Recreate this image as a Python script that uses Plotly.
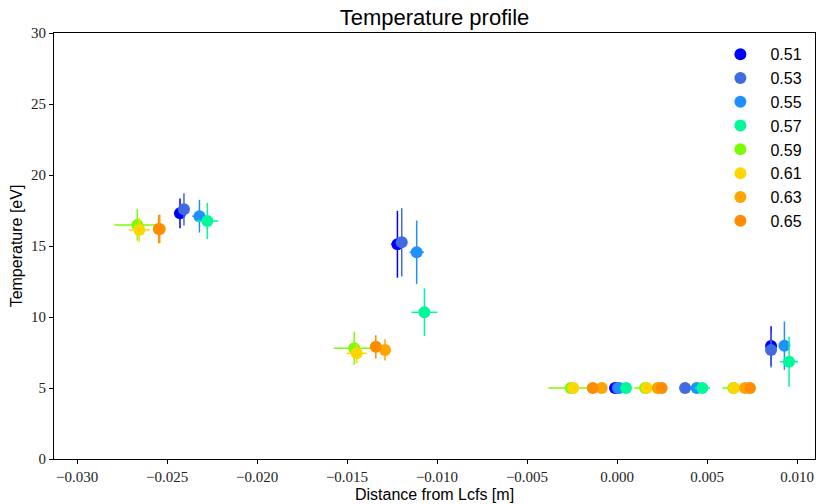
import plotly.graph_objects as go

labels = ["0.51", "0.53", "0.55", "0.57", "0.59", "0.61", "0.63", "0.65"]
colors = ["#0000FF", "#4169E1", "#1E90FF", "#00FA9A", "#7CFC00", "#FFD700", "#FFA500", "#FF8C00"]

x_051 = [-0.02428, -0.0122, -0.00011, 0.00856]
y_051 = [17.3, 15.12, 5.0, 7.96]
xe_051 = [0.00033, 0.00035, 0.0003, 0.0]
ye_051 = [1.05, 2.35, 0.0, 1.39]

x_053 = [-0.02406, -0.01196, 0.00004, 0.00378, 0.00856]
y_053 = [17.58, 15.26, 5.0, 5.0, 7.68]
xe_053 = [0.0, 0.0, 0.0, 0.0, 0.0]
ye_053 = [1.13, 2.4, 0.0, 0.0, 1.23]

x_055 = [-0.0232, -0.01113, 0.00013, 0.00443, 0.0093]
y_055 = [17.1, 14.56, 5.0, 5.0, 7.98]
xe_055 = [0.0004, 0.0004, 0.0, 0.0, 0.0]
ye_055 = [1.15, 2.23, 0.0, 0.0, 1.7]

x_057 = [-0.02276, -0.0107, 0.0005, 0.00474, 0.00956]
y_057 = [16.76, 10.33, 5.0, 5.0, 6.85]
xe_057 = [0.0006, 0.00072, 0.0, 0.00043, 0.0005]
ye_057 = [1.27, 1.68, 0.0, 0.0, 1.76]

x_059 = [-0.02665, -0.0146, -0.00257, 0.00156, 0.00646]
y_059 = [16.48, 7.8, 5.0, 5.0, 5.0]
xe_059 = [0.00128, 0.00113, 0.00125, 0.0006, 0.0006]
ye_059 = [1.1, 1.17, 0.0, 0.0, 0.0]

x_061 = [-0.02654, -0.01446, -0.00243, 0.00165, 0.0065]
y_061 = [16.13, 7.44, 5.0, 5.0, 5.0]
xe_061 = [0.00058, 0.00056, 0.0, 0.0, 0.0]
ye_061 = [0.85, 0.7, 0.0, 0.0, 0.0]

x_063 = [-0.0254, -0.01289, -0.00085, 0.00226, 0.00711]
y_063 = [16.2, 7.68, 5.0, 5.0, 5.0]
xe_063 = [0.0, 0.0, 0.0, 0.0, 0.0]
ye_063 = [1.0, 0.75, 0.0, 0.0, 0.0]

x_065 = [-0.02546, -0.0134, -0.00135, 0.00248, 0.00739]
y_065 = [16.2, 7.9, 5.0, 5.0, 5.0]
xe_065 = [0.0, 0.0, 0.0, 0.0, 0.0]
ye_065 = [1.0, 0.82, 0.0, 0.0, 0.0]

series = [
    (x_051, y_051, xe_051, ye_051),
    (x_053, y_053, xe_053, ye_053),
    (x_055, y_055, xe_055, ye_055),
    (x_057, y_057, xe_057, ye_057),
    (x_059, y_059, xe_059, ye_059),
    (x_061, y_061, xe_061, ye_061),
    (x_063, y_063, xe_063, ye_063),
    (x_065, y_065, xe_065, ye_065),
]

x_ticks = [-0.030, -0.025, -0.020, -0.015, -0.010, -0.005, 0.000, 0.005, 0.010]
y_ticks = [0, 5, 10, 15, 20, 25, 30]

fig = go.Figure()
for lab, col, (xs, ys, xe, ye) in zip(labels, colors, series):
    fig.add_trace(go.Scatter(
        x=xs, y=ys, mode="markers", name=lab,
        marker=dict(color=col, size=12, line=dict(width=0)),
        error_x=dict(type="data", array=xe, visible=True, color=col, thickness=1.5, width=0),
        error_y=dict(type="data", array=ye, visible=True, color=col, thickness=1.5, width=0),
    ))

sans = "Liberation Sans"
tickfont = dict(family="Liberation Serif", size=15, color="#222222")
fig.update_layout(
    width=819, height=504,
    paper_bgcolor="white", plot_bgcolor="white",
    margin=dict(l=54, r=4, t=33, b=45, autoexpand=False),
    title=dict(text="Temperature profile", x=434.5 / 819, xanchor="center",
               y=1 - 17 / 504, yanchor="middle", automargin=False,
               font=dict(family=sans, size=22, color="black")),
    xaxis=dict(range=[-0.03128, 0.0110], tickvals=x_ticks, tickformat=".3f", automargin=False,
               showgrid=False, zeroline=False, showline=True, linecolor="black", linewidth=1.2,
               mirror=True, ticks="outside", ticklen=4, tickcolor="black", tickfont=tickfont,
               title=dict(text="Distance from Lcfs [m]", standoff=4,
                          font=dict(family=sans, size=16, color="black"))),
    yaxis=dict(range=[0, 30], tickvals=y_ticks, automargin=False,
               showgrid=False, zeroline=False, showline=True, linecolor="black", linewidth=1.2,
               mirror=True, ticks="outside", ticklen=4, tickcolor="black", tickfont=tickfont,
               title=dict(text="Temperature [eV]", standoff=4,
                          font=dict(family=sans, size=16, color="black"))),
    legend=dict(x=0.99, y=0.99, xanchor="right", yanchor="top", bgcolor="rgba(0,0,0,0)",
                font=dict(family=sans, size=16, color="black"),
                tracegroupgap=0, itemwidth=50),
    showlegend=True,
)

fig.write_html("out.html", config={"displayModeBar": False},
               post_script="document.body.style.margin='0';document.body.style.overflow='hidden';")
